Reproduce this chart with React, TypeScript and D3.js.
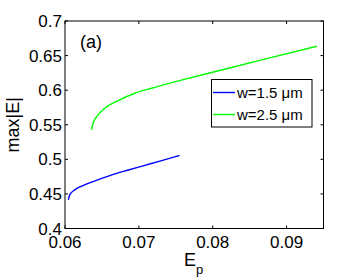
import React from 'react';
import * as d3 from 'd3';

const xTicks = [0.06, 0.07, 0.08, 0.09];
const yTicks = [0.4, 0.45, 0.5, 0.55, 0.6, 0.65, 0.7];

// w = 1.5 um
const bluePoints: [number, number][] = [
  [0.06045, 0.4414], [0.06064, 0.4487], [0.06132, 0.4559], [0.06244, 0.4621], [0.0638, 0.4679],
  [0.06607, 0.4765], [0.06833, 0.4838], [0.07058, 0.4906], [0.07285, 0.4974], [0.0755, 0.5055],
];
// w = 2.5 um
const greenPoints: [number, number][] = [
  [0.06358, 0.5426], [0.0638, 0.5522], [0.06448, 0.5642], [0.06539, 0.5739], [0.06719, 0.5849],
  [0.06946, 0.5955], [0.07172, 0.6028], [0.07398, 0.6095], [0.076, 0.6152], [0.0801, 0.6262],
  [0.0873, 0.6455], [0.0941, 0.6635],
];
const legendLabels = ['w=1.5 \u03bcm', 'w=2.5 \u03bcm'];
const colors = ['#0000ff', '#00ff00'];

const W = 357, H = 280;
const m = { left: 65, right: 323.5, top: 21, bottom: 228.5 };

export default function App() {
  const x = d3.scaleLinear().domain([0.06, 0.095]).range([m.left, m.right]);
  const y = d3.scaleLinear().domain([0.4, 0.7]).range([m.bottom, m.top]);
  const line = d3.line<[number, number]>().x(d => x(d[0])).y(d => y(d[1])).curve(d3.curveMonotoneX);
  const font = '"Liberation Sans", Arial, sans-serif';
  const fmt = d3.format('');
  return (
    <svg width={W} height={H} style={{ position: 'absolute', left: 0, top: 0, background: '#fff' }} fontFamily={font}>
      <rect x={0} y={0} width={W} height={H} fill="#fff" />
      <path d={line(bluePoints) || ''} fill="none" stroke={colors[0]} strokeWidth={1.4} />
      <path d={line(greenPoints) || ''} fill="none" stroke={colors[1]} strokeWidth={1.4} />
      <rect x={m.left} y={m.top} width={m.right - m.left} height={m.bottom - m.top} fill="none" stroke="#000" strokeWidth={1} />
      {xTicks.map(t => (
        <g key={'x' + t}>
          <line x1={x(t)} x2={x(t)} y1={m.bottom} y2={m.bottom - 3} stroke="#000" />
          <line x1={x(t)} x2={x(t)} y1={m.top} y2={m.top + 3} stroke="#000" />
          <text x={x(t)} y={248} fontSize={17} textAnchor="middle">{fmt(t)}</text>
        </g>
      ))}
      {yTicks.map(t => (
        <g key={'y' + t}>
          <line x1={m.left} x2={m.left + 3} y1={y(t)} y2={y(t)} stroke="#000" />
          <line x1={m.right} x2={m.right - 3} y1={y(t)} y2={y(t)} stroke="#000" />
          <text x={62} y={y(t) + 6} fontSize={17} textAnchor="end">{fmt(t)}</text>
        </g>
      ))}
      <text x={80} y={48} fontSize={18}>(a)</text>
      <text transform={`translate(18.5,${(m.top + m.bottom) / 2}) rotate(-90)`} fontSize={18} textAnchor="middle">max|E|</text>
      <text x={184} y={266} fontSize={18}>E<tspan fontSize={13} dy={8}>p</tspan></text>
      <rect x={211.5} y={79.5} width={100.5} height={47.5} fill="#fff" stroke="#000" strokeWidth={1} />
      {legendLabels.map((l, i) => (
        <g key={l}>
          <line x1={213} x2={235} y1={92.5 + i * 22} y2={92.5 + i * 22} stroke={colors[i]} strokeWidth={1.4} />
          <text x={237} y={98 + i * 22} fontSize={15}>{l}</text>
        </g>
      ))}
    </svg>
  );
}
